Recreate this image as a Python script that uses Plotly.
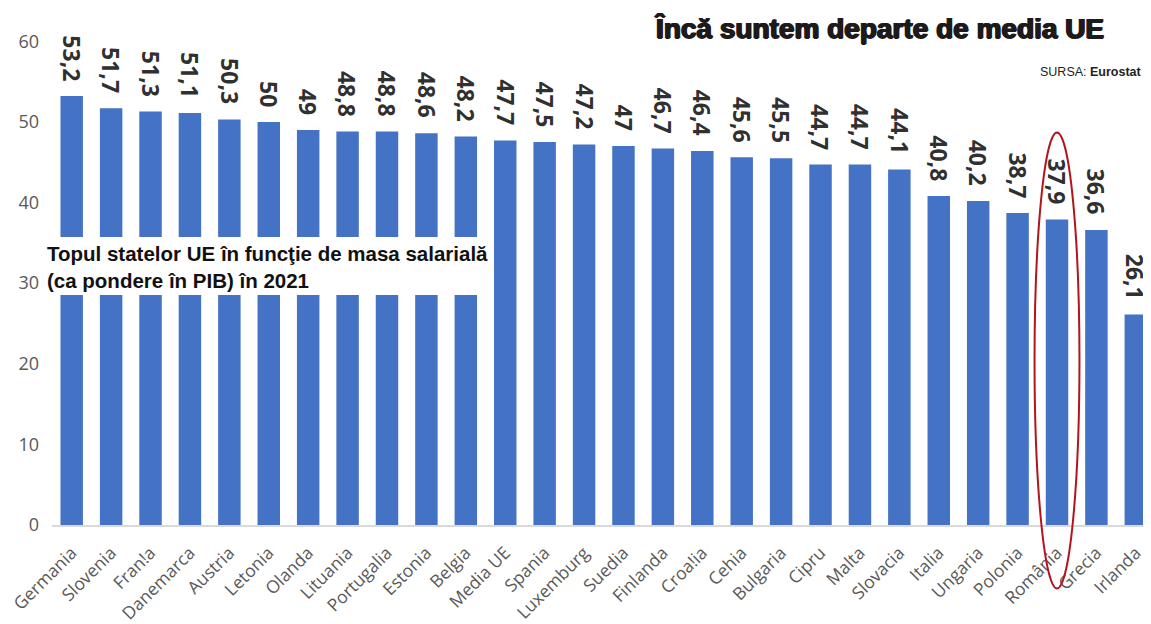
import plotly.graph_objects as go

categories = ["Germania", "Slovenia", "Fran!a", "Danemarca", "Austria", "Letonia", "Olanda",
              "Lituania", "Portugalia", "Estonia", "Belgia", "Media UE", "Spania", "Luxemburg",
              "Suedia", "Finlanda", "Croa!ia", "Cehia", "Bulgaria", "Cipru", "Malta", "Slovacia",
              "Italia", "Ungaria", "Polonia", "România", "Grecia", "Irlanda"]
values = [53.2, 51.7, 51.3, 51.1, 50.3, 50, 49, 48.8, 48.8, 48.6, 48.2, 47.7, 47.5, 47.2,
          47, 46.7, 46.4, 45.6, 45.5, 44.7, 44.7, 44.1, 40.8, 40.2, 38.7, 37.9, 36.6, 26.1]
y_ticks = [0, 10, 20, 30, 40, 50, 60]

title_text = "Încă suntem departe de media UE"
source_text = "SURSA: <b>Eurostat</b>"
subtitle_text = "Topul statelor UE în funcţie de masa salarială<br>(ca pondere în PIB) în 2021"
highlight = "România"

def fmt(v):
    return ("%g" % v).replace(".", ",")

# the page body has an 8px margin; the figure is sized/placed so that
# page coordinates match the 1151x624 window
OFF = 8
W, H = 1151 - OFF, 624 - OFF
ml, mr, mt, mb = 52.3 - OFF, 0, 8.5 - OFF, 91.5
x_range = [-0.5, 27.385]
y_range = [0, 64]

fig = go.Figure()
fig.add_trace(go.Bar(
    x=categories, y=values,
    marker=dict(color="#4472C4", line=dict(width=0)),
    hoverinfo="x+y",
))

sans = "Liberation Sans, Arial, sans-serif"

annotations = []
for c, v in zip(categories, values):
    annotations.append(dict(
        x=c, y=v, xref="x", yref="y", text="<b>" + fmt(v) + "</b>",
        textangle=90, showarrow=False, xanchor="center", yanchor="bottom",
        yshift=13,
        font=dict(family="Open Sans, Liberation Sans, sans-serif", size=23, color="#303030"),
    ))

pw = W - ml - mr
ph = H - mt - mb
def px_to_paper_x(px):
    return (px - OFF - ml) / pw
def px_to_paper_y(py):
    return (H - mb - (py - OFF)) / ph

annotations.append(dict(
    x=px_to_paper_x(1106), y=px_to_paper_y(28), xref="paper", yref="paper",
    text="<b>" + title_text + "</b>", showarrow=False, xanchor="right", yanchor="middle",
    font=dict(family=sans, size=28, color="#1E1A1B",
              shadow="0.9px 0 0 #1E1A1B, -0.9px 0 0 #1E1A1B, 0 0.5px 0 #1E1A1B"),
))
annotations.append(dict(
    x=px_to_paper_x(1144), y=px_to_paper_y(72), xref="paper", yref="paper",
    text=source_text, showarrow=False, xanchor="right", yanchor="middle",
    font=dict(family=sans, size=12.5, color="#231F20"),
))
annotations.append(dict(
    x=px_to_paper_x(45), y=px_to_paper_y(271), xref="paper", yref="paper",
    text="<b>" + subtitle_text + "</b>", showarrow=False, xanchor="left", yanchor="middle",
    align="left",
    font=dict(family=sans, size=20.5, color="#111111"),
))

# white box behind the subtitle
shapes = [dict(
    type="rect", xref="paper", yref="paper", layer="above",
    x0=px_to_paper_x(44), x1=px_to_paper_x(489),
    y0=px_to_paper_y(299), y1=px_to_paper_y(240),
    fillcolor="white", line=dict(width=0),
)]

# red ellipse around the highlighted category
idx = categories.index(highlight)
span = x_range[1] - x_range[0]
cx = (idx - x_range[0]) / span
hw = 0.57 / span
shapes.append(dict(
    type="circle", xref="paper", yref="paper", layer="above",
    x0=cx - hw, x1=cx + hw,
    y0=px_to_paper_y(597), y1=px_to_paper_y(134),
    line=dict(color="#B3141E", width=2), fillcolor="rgba(0,0,0,0)",
))

fig.update_layout(
    width=W, height=H,
    margin=dict(l=ml, r=mr, t=mt, b=mb, pad=0),
    paper_bgcolor="white", plot_bgcolor="white",
    bargap=0.43,
    showlegend=False,
    annotations=annotations,
    shapes=shapes,
    xaxis=dict(
        range=x_range, tickangle=-45, showgrid=False, zeroline=False,
        showline=True, linecolor="#D9D9D9", linewidth=1.5,
        ticks="", ticklabelstandoff=9,
        tickfont=dict(family="Open Sans, sans-serif", size=17.5, color="#595959"),
        fixedrange=True,
    ),
    yaxis=dict(
        range=y_range, tickvals=y_ticks, showgrid=False, zeroline=False,
        showline=False, ticks="", ticklabelstandoff=12,
        tickfont=dict(family="Open Sans, sans-serif", size=18, color="#595959"),
        fixedrange=True,
    ),
)

fig.write_html("out.html")
